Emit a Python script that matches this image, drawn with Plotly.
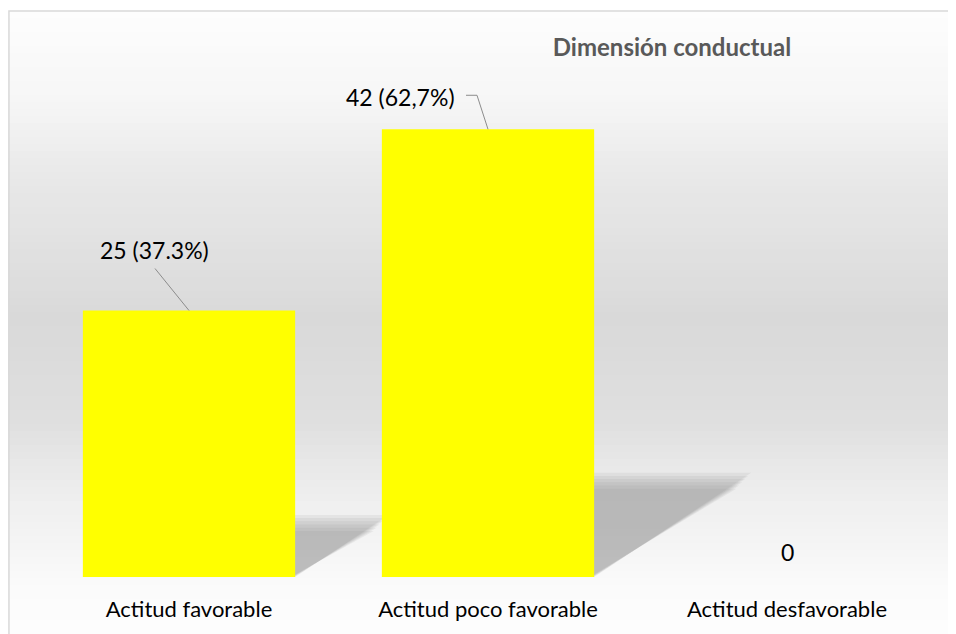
import numpy as np
import plotly.graph_objects as go

# --- datos ---
categorias = ['Actitud favorable', 'Actitud poco favorable', 'Actitud desfavorable']
frecuencia = [25, 42, 0]
porcentaje = ['37.3%', '62,7%', '']
titulo = 'Dimensión conductual'

# la página tiene 8px de margen en el body
OFF = 8
W, H = 956 - OFF, 634 - OFF
FONT = 'Lato'


def px(x):
    return (x - OFF) / W


def py(y):
    return 1 - (y - OFF) / H


fig = go.Figure()
fig.add_trace(go.Bar(x=categorias, y=frecuencia, marker_color='#ffff00',
                     marker_line_width=0, showlegend=False, hoverinfo='skip'))

shapes = []

# fondo con degradado (franjas finas)
stops_y = [11, 100, 180, 220, 320, 420, 500, 600, 634]
stops_g = [253, 246, 232, 228, 217, 223, 239, 252, 253]
edges = np.linspace(11, 634, 90)
for y0, y1 in zip(edges[:-1], edges[1:]):
    g = int(round(np.interp((y0 + y1) / 2, stops_y, stops_g)))
    shapes.append(dict(type='rect', xref='paper', yref='paper', layer='below',
                       x0=0, x1=px(949), y0=py(y1) - 0.001, y1=py(y0),
                       fillcolor=f'rgb({g},{g},{g})', line_width=0))

# sombras de las barras (varias capas para suavizar el borde)
w = 0.355
for i, v in enumerate(frecuencia):
    if v == 0:
        continue
    for k in range(6):
        h = 0.233 * v - k * 0.3
        dx = 0.0125 * v - k * 0.01
        path = (f'M {i - w},0 L {i - w + dx},{h} L {i + w + dx},{h} '
                f'L {i + w - k * 0.003},0 Z')
        shapes.append(dict(type='path', xref='x', yref='y', layer='below', path=path,
                           fillcolor='rgba(140,140,140,0.12)', line_width=0))

# borde
shapes.append(dict(type='rect', xref='paper', yref='paper', layer='above',
                   x0=0.001, x1=px(949), y0=-0.05, y1=py(11),
                   line=dict(color='#d9d9d9', width=1.5), fillcolor='rgba(0,0,0,0)'))

# líneas guía de las etiquetas
guias = {0: 'M 0 0 L -34 42', 1: 'M 0 0 L -11 34 L -22 34'}
for i, p in guias.items():
    shapes.append(dict(type='path', xref='x', yref='y', xsizemode='pixel', ysizemode='pixel',
                       xanchor=i, yanchor=frecuencia[i], path=p,
                       line=dict(color='#8c8c8c', width=1)))

# etiquetas de datos
annotations = []
desplaz = [(-35, 61, 'center'), (-31, 32, 'right'), (0, 25, 'center')]
for i, v in enumerate(frecuencia):
    txt = f'{v} ({porcentaje[i]})' if porcentaje[i] else f'{v}'
    dx, dy, xa = desplaz[i]
    annotations.append(dict(x=i, y=v, xref='x', yref='y', text=txt, showarrow=False,
                            xanchor=xa, yanchor='middle', xshift=dx, yshift=dy,
                            font=dict(family=FONT, size=23, color='#000000')))

fig.update_layout(
    width=W, height=H, autosize=False,
    margin=dict(l=0, r=0, t=0, b=0),
    paper_bgcolor='white', plot_bgcolor='rgba(0,0,0,0)',
    bargap=0.29,
    shapes=shapes, annotations=annotations,
    title=dict(text=f'<b>{titulo}</b>', x=px(672), y=py(48), xanchor='center', yanchor='middle',
               font=dict(family=FONT, size=24, color='#595959')),
    xaxis=dict(domain=[px(39.5), px(936.5)], range=[-0.5, 2.5], showline=False, ticks='',
               showgrid=False, zeroline=False, ticklabelstandoff=17,
               tickfont=dict(family=FONT, size=22, color='#000000')),
    yaxis=dict(domain=[py(577), py(44)], range=[0, 50], visible=False,
               showgrid=False, zeroline=False),
)

fig.write_html('out.html')
